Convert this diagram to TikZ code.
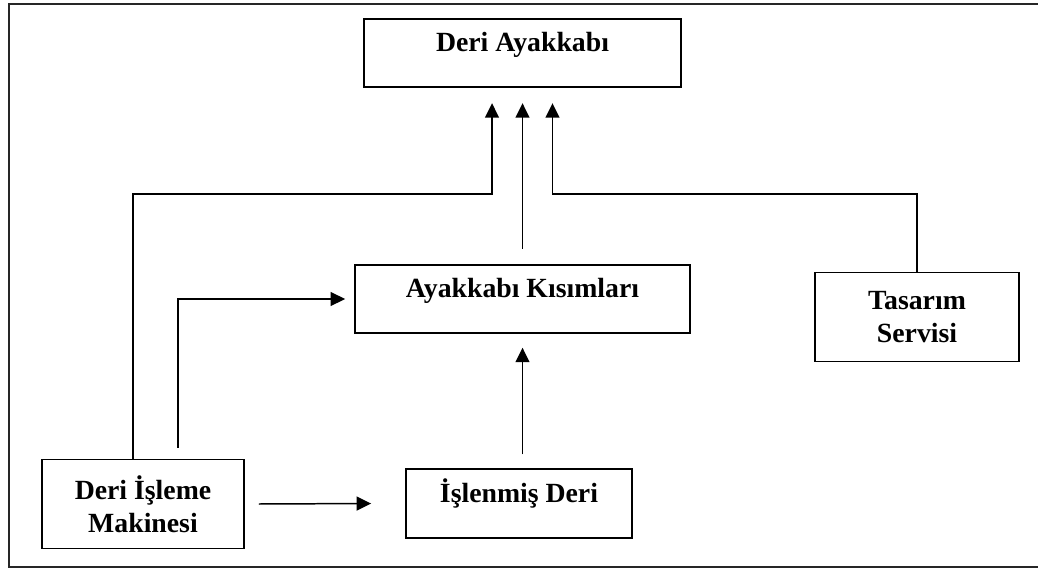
\documentclass[tikz,border=0pt]{standalone}
\usepackage{fontspec}
\setmainfont{Liberation Serif}
\usetikzlibrary{arrows.meta}

\begin{document}
\begin{tikzpicture}[x = 0.02cm, y = -0.02cm,
  box/.style = {draw, line width = 1.1pt, inner sep = 0pt, align = center,
                font = \fontsize{15.8}{18.6}\selectfont\bfseries},
  onerow/.style = {text height = 0.66cm, text depth = 0.71cm},
  tworow/.style = {minimum height = 1.78cm},
  link/.style = {line width = 0.85pt, -{Triangle[width = 0.28cm, length = 0.29cm]}},
  frame/.style = {line width = 1.2pt, black!85}]
\useasboundingbox (0, 0) rectangle (1038, 571);
\draw[frame] (1038, 4) -- (9, 4) -- (9, 567) -- (1038, 567);
% boxes
\node[box, onerow, minimum width = 6.34cm] (ayakkabi) at (522.5, 53) {Deri Ayakkabı};
\node[box, onerow, minimum width = 6.7cm] (kisimlar) at (522.5, 299) {Ayakkabı Kısımları};
\node[box, onerow, minimum width = 4.52cm] (islenmis) at (519, 503.5) {İşlenmiş Deri};
\node[box, tworow, minimum width = 4.04cm] (makine) at (143, 504) {Deri İşleme\\Makinesi};
\node[box, tworow, minimum width = 4.08cm] (tasarim) at (917, 317) {Tasarım\\Servisi};
% connectors
\draw[link] ([xshift = -0.2cm]makine.north) |- ([xshift = -0.61cm, yshift = -2.12cm]ayakkabi.south)
  -- ([xshift = -0.61cm, yshift = -0.3cm]ayakkabi.south);
\draw[link] ([yshift = 0.3cm]kisimlar.north) -- ([yshift = -0.3cm]ayakkabi.south);
\draw[link] (tasarim.north) |- ([xshift = 0.6cm, yshift = -2.12cm]ayakkabi.south)
  -- ([xshift = 0.6cm, yshift = -0.3cm]ayakkabi.south);
\draw[link] ([xshift = 0.7cm, yshift = 0.22cm]makine.north) |- ([xshift = -0.18cm]kisimlar.west);
\draw[link] ([yshift = 0.28cm]islenmis.north -| kisimlar.south) -- ([yshift = -0.27cm]kisimlar.south);
\draw[link] ([xshift = 0.28cm]makine.east) -- ([xshift = -0.68cm]islenmis.west);
\end{tikzpicture}
\end{document}
